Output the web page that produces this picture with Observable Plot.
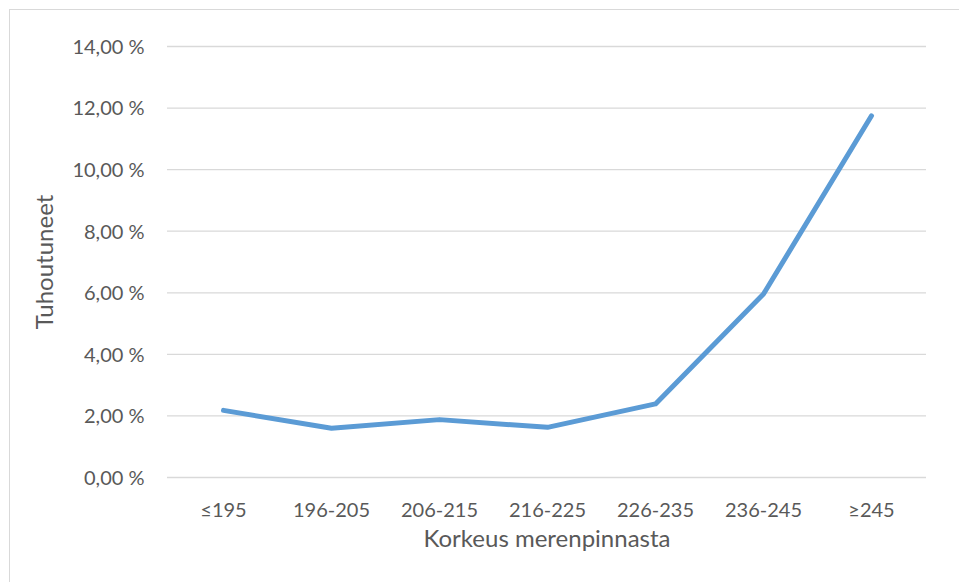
<!DOCTYPE html>
<html>
<head>
<meta charset="utf-8">
<script src="https://cdn.jsdelivr.net/npm/d3@7"></script>
<script src="https://cdn.jsdelivr.net/npm/@observablehq/plot@0.6"></script>
<style>
  html, body { margin: 0; padding: 0; background: #fff; }
  #wrap { position: relative; width: 959px; height: 582px; overflow: hidden; }
  #border { position: absolute; left: 9px; top: 9px; width: 980px; height: 600px; border-left: 1.5px solid #d9d9d9; border-top: 1.5px solid #d9d9d9; box-sizing: border-box; pointer-events: none; }
  #chart { position: absolute; left: 0; top: 0; }
</style>
</head>
<body>
<div id="wrap"><div id="chart"></div><div id="border"></div></div>
<script>
const categories = ["≤195", "196-205", "206-215", "216-225", "226-235", "236-245", "≥245"];
const values = [2.18, 1.60, 1.88, 1.63, 2.39, 5.96, 11.75];
const yTicks = [0, 2, 4, 6, 8, 10, 12, 14];
const yTitle = "Tuhoutuneet";
const xTitle = "Korkeus merenpinnasta";

const data = categories.map((c, i) => ({cat: c, val: values[i]}));
const fmt = d => d.toFixed(2).replace(".", ",") + " %";
const font = "Lato, 'Liberation Sans', sans-serif";

const chart = Plot.plot({
  width: 959,
  height: 582,
  marginLeft: 167,
  marginRight: 33,
  marginTop: 46,
  marginBottom: 105,
  style: {fontFamily: font, fontSize: "20px", color: "#595959", background: "transparent"},
  x: {type: "point", domain: categories, padding: 0.5},
  y: {domain: [0, 14]},
  marks: [
    Plot.gridY(yTicks, {stroke: "#d9d9d9", strokeOpacity: 1, strokeWidth: 1.3}),
    Plot.axisY(yTicks, {tickSize: 0, tickPadding: 23, tickFormat: fmt, label: null, fill: "#595959", fontSize: 20, dy: 1}),
    Plot.axisX({tickSize: 0, tickPadding: 25, label: null, fill: "#595959", fontSize: 20}),
    Plot.line(data, {x: "cat", y: "val", stroke: "#5b9bd5", strokeWidth: 5, strokeLinecap: "round", strokeLinejoin: "round"}),
    Plot.text([yTitle], {frameAnchor: "left", dx: -122, rotate: -90, textAnchor: "middle", lineAnchor: "middle", fontSize: 24, fill: "#595959"}),
    Plot.text([xTitle], {frameAnchor: "bottom", dy: 62, textAnchor: "middle", lineAnchor: "middle", fontSize: 24, fill: "#595959"})
  ]
});
document.getElementById("chart").appendChild(chart);
</script>
</body>
</html>
